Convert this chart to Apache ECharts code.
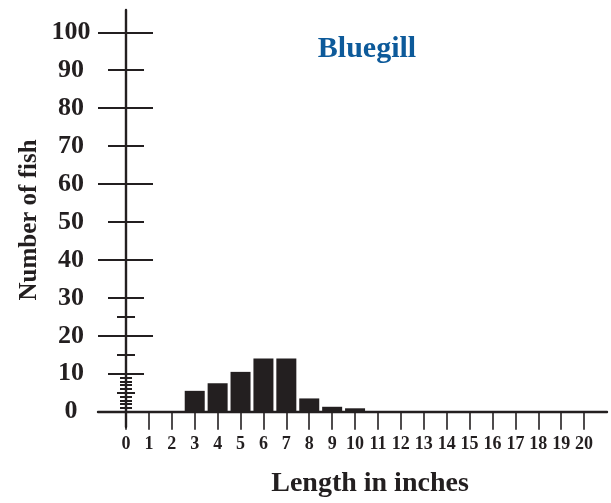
<!DOCTYPE html>
<html>
<head>
<meta charset="utf-8">
<script src="https://cdn.jsdelivr.net/npm/echarts@6/dist/echarts.min.js"></script>
<style>html,body{margin:0;padding:0;background:#fff;}#chart{width:611px;height:503px;}</style>
</head>
<body>
<div id="chart"></div>
<script>
// Data
const lengths = [3, 4, 5, 6, 7, 8, 9, 10];
const counts = [5.5, 7.5, 10.5, 14, 14, 3.5, 1.3, 0.9];
const xTickValues = [0, 1, 2, 3, 4, 5, 6, 7, 8, 9, 10, 11, 12, 13, 14, 15, 16, 17, 18, 19, 20];
const yLabelValues = [0, 10, 20, 30, 40, 50, 60, 70, 80, 90, 100];
const yMajorTicks = [0, 20, 40, 60, 80, 100];
const yMidTicks = [10, 30, 50, 70, 90];
const yFiveTicks = [5, 15, 25];
const yUnitTicks = [1, 2, 3, 4, 6, 7, 8, 9];
const titleText = 'Bluegill';
const xTitle = 'Length in inches';
const yTitle = 'Number of fish';

const INK = '#231f20';
const FONT = "'Liberation Serif', 'DejaVu Serif', serif";
const Y_MIN = -4.03, Y_MAX = 105.88;
const X_MIN = -1.223, X_MAX = 21.0;

function yAxisDef(ticks, len, inside, opts) {
  opts = opts || {};
  return {
    type: 'value', position: 'left', min: Y_MIN, max: Y_MAX,
    axisLine: { show: !!opts.line, onZero: true, onZeroAxisIndex: 0, lineStyle: { color: INK, width: 2.4 } },
    axisTick: { show: ticks.length > 0, customValues: ticks, length: len, inside: inside, lineStyle: { color: INK, width: 2 } },
    axisLabel: opts.labels ? {
      show: true, customValues: yLabelValues, margin: 27, align: 'center',
      color: INK, fontFamily: FONT, fontWeight: 'bold', fontSize: 26
    } : { show: false },
    splitLine: { show: false }
  };
}

const chart = echarts.init(document.getElementById('chart'), null, { renderer: 'canvas' });
chart.setOption({
  animation: false,
  backgroundColor: '#fff',
  grid: { left: 98, right: 4, top: 10, bottom: 76, containLabel: false },
  xAxis: {
    type: 'value', min: X_MIN, max: X_MAX,
    axisLine: { show: true, onZero: true, onZeroAxisIndex: 0, lineStyle: { color: INK, width: 2.4 } },
    axisTick: { show: true, customValues: xTickValues, length: 18, lineStyle: { color: INK, width: 1.6 } },
    axisLabel: { show: true, customValues: xTickValues, margin: 8, color: INK, fontFamily: FONT, fontWeight: 'bold', fontSize: 18 },
    splitLine: { show: false }
  },
  yAxis: [
    yAxisDef([], 0, false, { line: true, labels: true }),
    yAxisDef(yMajorTicks, 28, false),
    yAxisDef(yMajorTicks, 27, true),
    yAxisDef(yMidTicks, 18, false),
    yAxisDef(yMidTicks, 18, true),
    yAxisDef(yFiveTicks, 9, false),
    yAxisDef(yFiveTicks, 9, true),
    yAxisDef(yUnitTicks, 6, false),
    yAxisDef(yUnitTicks, 6, true)
  ],
  series: [{
    type: 'bar', xAxisIndex: 0, yAxisIndex: 0,
    data: lengths.map((l, i) => [l, counts[i]]),
    barWidth: 20,
    itemStyle: { color: INK },
    silent: true
  }],
  graphic: [
    { type: 'text', x: 367, y: 49, style: { text: titleText, textAlign: 'center', textVerticalAlign: 'middle', font: "bold 30px " + FONT, fill: '#0d5a9a' } },
    { type: 'text', x: 370, y: 484, style: { text: xTitle, textAlign: 'center', textVerticalAlign: 'middle', font: "bold 28px " + FONT, fill: INK } },
    { type: 'text', x: 30, y: 220, rotation: Math.PI / 2, style: { text: yTitle, textAlign: 'center', textVerticalAlign: 'middle', font: "bold 25px " + FONT, fill: INK } }
  ]
});
</script>
</body>
</html>
